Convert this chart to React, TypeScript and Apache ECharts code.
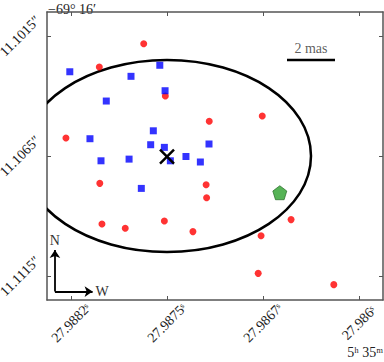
import React, { useEffect, useRef } from "react";
import * as echarts from "echarts";

// offsets in mas (x grows to the West/right, y grows to the South/down)
const xTickValues = [0, 4, 8, 12];
const xTickLabels = ["27.9882ˢ", "27.9875ˢ", "27.9867ˢ", "27.986ˢ"];
const yTickValues = [0, 5, 10];
const yTickLabels = ["11.1015″", "11.1065″", "11.1115″"];

const redPoints: [number, number][] = [
  [3.03, 0.32], [1.18, 1.29], [3.93, 2.5], [5.76, 3.55], [-0.21, 4.25],
  [7.97, 3.33], [1.2, 6.14], [5.63, 6.2], [5.65, 6.74], [1.29, 7.83],
  [2.26, 8.01], [3.89, 7.71], [5.08, 8.15], [9.17, 7.65], [7.92, 8.32],
  [7.8, 9.89], [10.95, 10.36],
];
const bluePoints: [number, number][] = [
  [-0.05, 1.49], [2.5, 1.68], [3.7, 1.22], [1.47, 2.71], [3.92, 2.28],
  [0.79, 4.28], [3.43, 3.95], [3.32, 4.53], [3.89, 4.64], [5.75, 4.5],
  [4.79, 5.02], [2.42, 5.13], [1.25, 5.2], [4.14, 5.2], [5.39, 5.25],
  [2.93, 6.35],
];
const crossPoint: [number, number][] = [[4.0, 5.03]];
const pentagonPoint: [number, number][] = [[8.7, 6.53]];
// ellipse: centre x, centre y, semi-axis x, semi-axis y
const ellipseData = [[4, 5, 6, 4]];
const scaleBar: [number, number][] = [[9, 1], [11, 1]];
const scaleBarLabel = "2 mas";
const compassOrigin: [number, number] = [-0.67, 10.65];
const compassNorthTip: [number, number] = [-0.67, 8.92];
const compassWestTip: [number, number] = [0.9, 10.65];

const SERIF = "'Liberation Serif', 'DejaVu Serif', serif";
const AXIS_COLOR = "#555555";
const TEXT_COLOR = "#222222";

export default function App() {
  const ref = useRef<HTMLDivElement>(null);
  useEffect(() => {
    if (!ref.current) return;
    const chart = echarts.init(ref.current, undefined, { renderer: "svg" });
    const axisLine = { show: true, onZero: false, lineStyle: { color: AXIS_COLOR, width: 1.5 } };
    const tick = { show: true, inside: true, length: 4, lineStyle: { color: AXIS_COLOR, width: 1 } };
    const option: any = {
      animation: false,
      backgroundColor: "#ffffff",
      grid: { left: 47, right: 1, top: 12, bottom: 62, containLabel: false, outerBoundsMode: "none" },
      xAxis: [
        {
          type: "value",
          min: -1,
          max: 13,
          position: "bottom",
          axisLine,
          axisTick: { ...tick, customValues: xTickValues },
          splitLine: { show: false },
          axisLabel: {
            customValues: xTickValues,
            rotate: 45,
            margin: 23,
            align: "center",
            verticalAlign: "middle",
            fontFamily: SERIF,
            fontSize: 14,
            color: TEXT_COLOR,
            formatter: (v: number) => {
              const i = xTickValues.indexOf(v);
              return i >= 0 ? xTickLabels[i] : "";
            },
          },
        },
        {
          type: "value",
          min: -1,
          max: 13,
          position: "top",
          axisLine,
          axisTick: { ...tick, customValues: xTickValues },
          splitLine: { show: false },
          axisLabel: { show: false },
        },
      ],
      yAxis: [
        {
          type: "value",
          min: -1,
          max: 11,
          inverse: true,
          position: "left",
          axisLine,
          axisTick: { ...tick, customValues: yTickValues },
          splitLine: { show: false },
          axisLabel: {
            customValues: yTickValues,
            rotate: 45,
            margin: 27,
            align: "center",
            verticalAlign: "middle",
            fontFamily: SERIF,
            fontSize: 14,
            color: TEXT_COLOR,
            formatter: (v: number) => {
              const i = yTickValues.indexOf(v);
              return i >= 0 ? yTickLabels[i] : "";
            },
          },
        },
        {
          type: "value",
          min: -1,
          max: 11,
          inverse: true,
          position: "right",
          axisLine,
          axisTick: { ...tick, customValues: yTickValues },
          splitLine: { show: false },
          axisLabel: { show: false },
        },
      ],
      graphic: [
        {
          type: "text",
          left: 48,
          top: 2,
          style: { text: "−69° 16′", font: `14px ${SERIF}`, fill: TEXT_COLOR },
        },
        {
          type: "text",
          right: 1,
          top: 345,
          style: { text: "5ʰ 35ᵐ", font: `14px ${SERIF}`, fill: TEXT_COLOR },
        },
      ],
      series: [
        {
          type: "custom",
          name: "ellipse",
          clip: true,
          z: 2,
          encode: { x: 0, y: 1 },
          data: ellipseData,
          renderItem: (params: any, api: any) => {
            const c = api.coord([api.value(0), api.value(1)]);
            const s = api.size([api.value(2), api.value(3)]);
            return {
              type: "ellipse",
              shape: { cx: c[0], cy: c[1], rx: Math.abs(s[0]), ry: Math.abs(s[1]) },
              style: { fill: "none", stroke: "#000000", lineWidth: 2.5 },
            };
          },
        },
        {
          type: "scatter",
          name: "red",
          data: redPoints,
          symbol: "circle",
          symbolSize: 7,
          itemStyle: { color: "#ff0000" },
          z: 3,
        },
        {
          type: "scatter",
          name: "blue",
          data: bluePoints,
          symbol: "rect",
          symbolSize: 7,
          itemStyle: { color: "#0000ff" },
          z: 3,
        },
        {
          type: "custom",
          name: "cross",
          encode: { x: 0, y: 1 },
          data: crossPoint,
          z: 4,
          renderItem: (params: any, api: any) => {
            const c = api.coord([api.value(0), api.value(1)]);
            const h = 7;
            const st = { stroke: "#000000", lineWidth: 2.5 };
            return {
              type: "group",
              children: [
                { type: "line", shape: { x1: c[0] - h, y1: c[1] - h, x2: c[0] + h, y2: c[1] + h }, style: st },
                { type: "line", shape: { x1: c[0] - h, y1: c[1] + h, x2: c[0] + h, y2: c[1] - h }, style: st },
              ],
            };
          },
        },
        {
          type: "scatter",
          name: "pentagon",
          data: pentagonPoint,
          symbol: "path://M50,0 L97.6,34.5 L79.4,90.5 L20.6,90.5 L2.4,34.5 Z",
          symbolSize: 14,
          itemStyle: { color: "#2ca02c", borderColor: "#1a5e1a", borderWidth: 0.8 },
          z: 4,
        },
        {
          type: "line",
          name: "scalebar",
          data: scaleBar,
          symbol: "none",
          lineStyle: { color: "#000000", width: 2.5 },
          z: 3,
        },
        {
          type: "scatter",
          name: "scalebarLabel",
          data: [[(scaleBar[0][0] + scaleBar[1][0]) / 2, scaleBar[0][1]]],
          symbolSize: 0,
          label: {
            show: true,
            position: "top",
            distance: 5,
            formatter: scaleBarLabel,
            fontFamily: SERIF,
            fontSize: 14,
            color: "#333333",
          },
          z: 3,
        },
        {
          type: "line",
          name: "compass",
          data: [],
          markLine: {
            silent: true,
            symbol: ["none", "arrow"],
            symbolSize: 8,
            lineStyle: { color: "#000000", width: 1.8, type: "solid" },
            label: {
              show: true,
              position: "end",
              distance: 3,
              fontFamily: SERIF,
              fontSize: 14,
              color: "#333333",
            },
            data: [
              [{ coord: compassOrigin }, { coord: compassNorthTip, label: { formatter: "N" } }],
              [{ coord: compassOrigin }, { coord: compassWestTip, label: { formatter: "W" } }],
            ],
          },
        },
      ],
    };
    chart.setOption(option);
    return () => chart.dispose();
  }, []);
  return (
    <div
      ref={ref}
      style={{ position: "fixed", left: 0, top: 0, width: 384, height: 362, background: "#fff" }}
    />
  );
}
